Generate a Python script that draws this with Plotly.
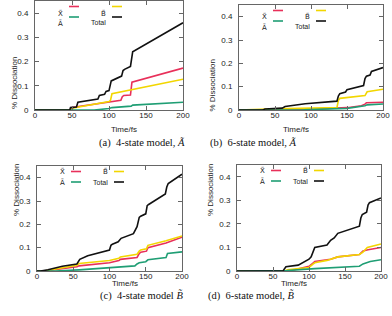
import plotly.graph_objects as go

W, H = 392, 316

# ---------------- data ----------------
# Panel (a) 4-state model, A~
t_a_total = [0, 47, 48, 56, 58, 85, 87, 94, 96, 100, 103, 105, 117, 119, 121, 129, 131, 132, 200]
v_a_total = [0, 0, 0.01, 0.012, 0.032, 0.045, 0.06, 0.065, 0.077, 0.08, 0.12, 0.123, 0.14, 0.163, 0.168, 0.18, 0.235, 0.24, 0.36]
t_a_X = [0, 47, 50, 100, 116, 118, 120, 129, 131, 200]
v_a_X = [0, 0, 0.01, 0.035, 0.04, 0.055, 0.06, 0.062, 0.115, 0.173]
t_a_B = [0, 48, 52, 100, 102, 104, 200]
v_a_B = [0, 0, 0.008, 0.035, 0.04, 0.067, 0.127]
t_a_A = [0, 80, 100, 104, 130, 132, 200]
v_a_A = [0, 0, 0.006, 0.01, 0.016, 0.02, 0.032]

# Panel (b) 6-state model, A~
t_b_total = [0, 33, 36, 60, 64, 92, 136, 138, 140, 148, 150, 163, 165, 173, 175, 177, 182, 184, 200]
v_b_total = [0, 0, 0.004, 0.008, 0.015, 0.027, 0.038, 0.06, 0.07, 0.077, 0.087, 0.098, 0.1, 0.105, 0.135, 0.145, 0.15, 0.165, 0.182]
t_b_X = [0, 90, 150, 170, 175, 177, 200]
v_b_X = [0, 0.002, 0.01, 0.018, 0.025, 0.031, 0.033]
t_b_B = [0, 50, 136, 138, 140, 170, 175, 178, 200]
v_b_B = [0, 0.005, 0.01, 0.04, 0.05, 0.058, 0.062, 0.078, 0.089]
t_b_A = [0, 90, 150, 170, 175, 178, 200]
v_b_A = [0, 0.001, 0.007, 0.014, 0.018, 0.022, 0.026]

# Panel (c) 4-state model, B~
t_c_total = [0, 5, 15, 35, 55, 57, 59, 70, 100, 102, 104, 112, 114, 116, 133, 138, 141, 143, 150, 152, 154, 177, 179, 181, 200]
v_c_total = [0, 0, 0.005, 0.02, 0.03, 0.04, 0.05, 0.065, 0.09, 0.11, 0.115, 0.125, 0.135, 0.14, 0.16, 0.19, 0.23, 0.235, 0.245, 0.28, 0.285, 0.33, 0.36, 0.375, 0.415]
t_c_XB = [0, 10, 55, 58, 100, 113, 115, 138, 141, 143, 151, 153, 178, 200]
v_c_B = [0, 0, 0.025, 0.032, 0.045, 0.055, 0.06, 0.072, 0.085, 0.09, 0.095, 0.11, 0.13, 0.15]
v_c_X = [0, 0, 0.018, 0.022, 0.035, 0.045, 0.05, 0.058, 0.075, 0.08, 0.085, 0.1, 0.12, 0.145]
t_c_A = [0, 25, 58, 100, 135, 138, 141, 150, 153, 178, 180, 200]
v_c_A = [0, 0, 0.005, 0.015, 0.022, 0.03, 0.035, 0.04, 0.048, 0.058, 0.075, 0.082]

# Panel (d) 6-state model, B~
t_d_total = [0, 64, 66, 68, 85, 95, 100, 103, 106, 108, 125, 128, 130, 135, 140, 170, 172, 174, 180, 182, 184, 200]
v_d_total = [0, 0, 0.01, 0.018, 0.025, 0.04, 0.05, 0.06, 0.09, 0.1, 0.11, 0.125, 0.13, 0.14, 0.16, 0.19, 0.225, 0.24, 0.25, 0.28, 0.29, 0.31]
t_d_B = [0, 66, 70, 100, 106, 108, 125, 140, 170, 175, 178, 181, 200]
v_d_B = [0, 0, 0.005, 0.015, 0.03, 0.035, 0.045, 0.06, 0.07, 0.08, 0.09, 0.1, 0.115]
t_d_X = [0, 70, 80, 100, 106, 108, 130, 140, 170, 175, 182, 200]
v_d_X = [0, 0, 0.005, 0.02, 0.035, 0.04, 0.05, 0.06, 0.07, 0.085, 0.09, 0.1]
t_d_A = [0, 66, 70, 108, 170, 175, 185, 200]
v_d_A = [0, 0, 0.002, 0.01, 0.02, 0.03, 0.04, 0.048]

x_ticks = [0, 50, 100, 150, 200]
y_ticks = [0, 0.1, 0.2, 0.3, 0.4]
y_ticktext = ["0", "0.1", "0.2", "0.3", "0.4"]

captions = ["(a)  4-state model, <i>Ã</i>", "(b)  6-state model, <i>Ã</i>",
            "(c)  4-state model <i>B̃</i>", "(d)  6-state model, <i>B̃</i>"]
legend_labels = ["X̃", "B̃", "Ã", "Total"]

RED, YEL, GRN, BLK = "#e8305a", "#f2d600", "#1f9e74", "#111111"

# frames in pixels: (left, right, top, bottom)
frames = [(35, 183, 1, 110), (239, 383, 5, 110), (37, 182, 166, 271), (237, 381, 165, 271)]

panels = [
    [(t_a_X, v_a_X, RED), (t_a_B, v_a_B, YEL), (t_a_A, v_a_A, GRN), (t_a_total, v_a_total, BLK)],
    [(t_b_X, v_b_X, RED), (t_b_B, v_b_B, YEL), (t_b_A, v_b_A, GRN), (t_b_total, v_b_total, BLK)],
    [(t_c_XB, v_c_X, RED), (t_c_XB, v_c_B, YEL), (t_c_A, v_c_A, GRN), (t_c_total, v_c_total, BLK)],
    [(t_d_X, v_d_X, RED), (t_d_B, v_d_B, YEL), (t_d_A, v_d_A, GRN), (t_d_total, v_d_total, BLK)],
]

def px(x):
    return x / W

def py(y):
    return 1 - y / H

fig = go.Figure()
layout = dict(width=W, height=H, margin=dict(l=0, r=0, t=0, b=0, autoexpand=False),
              paper_bgcolor="white", plot_bgcolor="white", showlegend=False)
annotations = []
shapes = []
FONT = "Liberation Sans, Arial, sans-serif"
LEGFONT = "DejaVu Sans, sans-serif"
SERIF = "Liberation Serif, DejaVu Serif, serif"

for i, (fr, series) in enumerate(zip(frames, panels)):
    L, R, T, B = fr
    n = "" if i == 0 else str(i + 1)
    xa, ya = "x" + n, "y" + n
    for t, v, c in series:
        fig.add_trace(go.Scatter(x=t, y=v, mode="lines", line=dict(color=c, width=1.6),
                                 xaxis=xa, yaxis=ya, hoverinfo="skip"))
    axcommon = dict(showgrid=False, zeroline=False, showline=True, linecolor="#666666",
                    linewidth=1, mirror="ticks", ticks="inside", ticklen=4, tickcolor="#666666",
                    automargin=False,
                    tickfont=dict(family=FONT, size=8, color="#222222"))
    layout["xaxis" + n] = dict(axcommon, domain=[px(L), px(R)], range=[0, 200], anchor=ya,
                               tickvals=x_ticks, ticklabelstandoff=-3)
    layout["yaxis" + n] = dict(axcommon, domain=[py(B), py(T)], range=[0, 0.45], anchor=xa,
                               tickvals=y_ticks, ticktext=y_ticktext, ticklabelstandoff=4)
    # axis titles
    annotations.append(dict(x=px(L - 27), y=py((T + B) / 2), xref="paper", yref="paper",
                            text="% Dissociation", textangle=-90, showarrow=False,
                            font=dict(family=FONT, size=8, color="#222222")))
    annotations.append(dict(x=px((L + R) / 2), y=py(B + 19), xref="paper", yref="paper",
                            text="Time/fs", showarrow=False,
                            font=dict(family=FONT, size=8, color="#222222")))
    # caption
    annotations.append(dict(x=px((L + R) / 2 - 12), y=py(B + 32.5), xref="paper", yref="paper",
                            text=captions[i], showarrow=False,
                            font=dict(family=SERIF, size=10.5, color="#111111")))
    # legend (gnuplot-style, two columns)
    entries = [(legend_labels[0], RED, 0, 0), (legend_labels[1], YEL, 1, 0),
               (legend_labels[2], GRN, 0, 1), (legend_labels[3], BLK, 1, 1)]
    for lab, c, col, row in entries:
        xl = L + (30 if col == 0 else 73)
        yl = T + 5.5 + 10.5 * row
        annotations.append(dict(x=px(xl), y=py(yl), xref="paper", yref="paper",
                                text=lab, showarrow=False, xanchor="right",
                                font=dict(family=LEGFONT if col == 0 or row == 0 else FONT,
                                          size=7, color="#222222")))
        shapes.append(dict(type="line", xref="paper", yref="paper",
                           x0=px(xl + 4), x1=px(xl + 14), y0=py(yl), y1=py(yl),
                           line=dict(color=c, width=1.6)))

layout["annotations"] = annotations
layout["shapes"] = shapes
fig.update_layout(**layout)
fig.write_html("out.html", config={"displayModeBar": False, "staticPlot": True},
               post_script="document.body.style.margin='0';document.body.style.padding='0';")
